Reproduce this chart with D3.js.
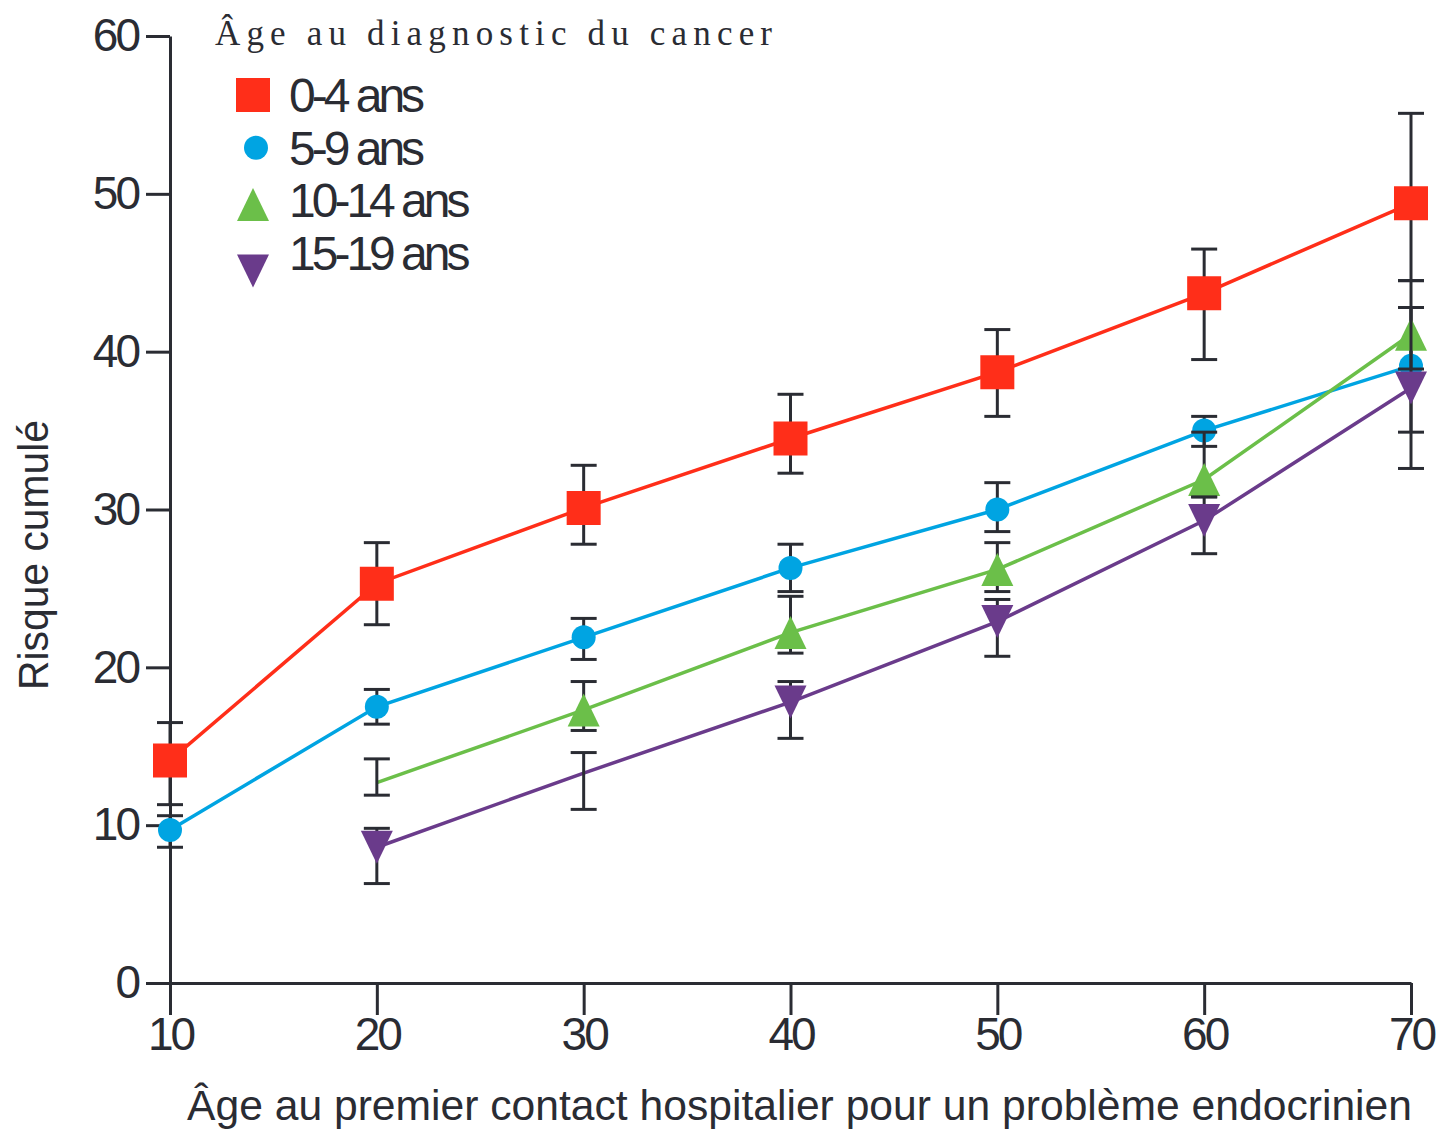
<!DOCTYPE html>
<html>
<head>
<meta charset="utf-8">
<script src="https://cdn.jsdelivr.net/npm/d3@7"></script>
<style>
  body { margin: 0; background: #fff; }
  svg { display: block; }
</style>
</head>
<body>
<script>
// x categories and axis ticks
var ages = [10, 20, 30, 40, 50, 60, 70];
var yTicks = [0, 10, 20, 30, 40, 50, 60];
var groups = ["0-4 ans", "5-9 ans", "10-14 ans", "15-19 ans"];

// cumulative risk with lower / upper bounds
var risk04 = [14.1, 25.3, 30.1, 34.5, 38.7, 43.7, 49.4];
var low04  = [11.3, 22.7, 27.8, 32.3, 35.9, 39.5, 44.5];
var high04 = [16.5, 27.9, 32.8, 37.3, 41.4, 46.5, 55.1];

var risk59 = [9.7, 17.5, 21.9, 26.3, 30.0, 35.0, 39.1];
var low59  = [8.6, 16.4, 20.5, 24.8, 28.6, 34.0, 34.9];
var high59 = [10.6, 18.6, 23.1, 27.8, 31.7, 35.9, 42.8];

var risk1014 = [null, 12.7, 17.3, 22.2, 26.2, 31.9, 41.1];
var low1014  = [null, 11.9, 16.0, 20.9, 24.8, 30.8, 38.9];
var high1014 = [null, 14.2, 19.1, 24.5, 27.9, 34.9, 44.5];

var risk1519 = [null, 8.6, 13.3, 17.8, 22.9, 29.3, 37.7];
var low1519  = [null, 6.3, 11.0, 15.5, 20.7, 27.2, 32.6];
var high1519 = [null, 9.8, 14.6, 19.1, 24.3, 30.8, 42.8];

// ages where no marker is drawn (only the error bar)
var noMarker = [[], [], [20], [30]];

var colors = ["#ff2e19", "#00a4e2", "#6bbf49", "#6a3b8b"];
var shapes = ["square", "circle", "up", "down"];
var ink = "#2a2c33";

var series = [
  {risk: risk04, low: low04, high: high04},
  {risk: risk59, low: low59, high: high59},
  {risk: risk1014, low: low1014, high: high1014},
  {risk: risk1519, low: low1519, high: high1519}
].map(function(s, i) {
  return {
    name: groups[i], color: colors[i], shape: shapes[i],
    points: ages.map(function(a, j) {
      return {age: a, v: s.risk[j], lo: s.low[j], hi: s.high[j],
              marker: noMarker[i].indexOf(a) < 0};
    }).filter(function(p) { return p.v != null; })
  };
});

var W = 1439, H = 1129;

var x = d3.scaleLinear().domain([10, 70]).range([170, 1411]);
var y = d3.scaleLinear().domain([0, 60]).range([983, 36]);

var svg = d3.select("body").append("svg")
  .attr("width", W)
  .attr("height", H);

function shapePath(shape) {
  if (shape == "square") return "M-17,-17h34v34h-34Z";
  if (shape == "circle") return d3.symbol(d3.symbolCircle, Math.PI * 12 * 12)();
  if (shape == "up") return "M0,-16.5L16,16.5L-16,16.5Z";
  return "M0,16.5L16,-16.5L-16,-16.5Z";
}

// axes
var yAxis = d3.axisLeft(y).tickValues(yTicks).tickSize(24).tickSizeOuter(0).tickPadding(8);
var xAxis = d3.axisBottom(x).tickValues(ages).tickSize(32).tickSizeOuter(0).tickPadding(2);

var gy = svg.append("g")
  .attr("transform", "translate(" + x(10) + ",0)")
  .call(yAxis);
var gx = svg.append("g")
  .attr("transform", "translate(0," + y(0) + ")")
  .call(xAxis);

[gx, gy].forEach(function(g) {
  g.selectAll("path, line").attr("stroke", ink).attr("stroke-width", 3);
  g.selectAll("text")
    .attr("fill", ink)
    .style("font-family", "'Liberation Sans', Arial, sans-serif")
    .style("font-size", "46px")
    .style("letter-spacing", "-3px");
});

// axis titles
svg.append("text")
  .attr("transform", "translate(48,555) rotate(-90)")
  .attr("text-anchor", "middle")
  .attr("fill", ink)
  .attr("textLength", 270)
  .attr("lengthAdjust", "spacingAndGlyphs")
  .style("font-family", "'Liberation Sans', Arial, sans-serif")
  .style("font-size", "42px")
  .text("Risque cumulé");

svg.append("text")
  .attr("x", 187)
  .attr("y", 1120)
  .attr("fill", ink)
  .attr("textLength", 1225)
  .attr("lengthAdjust", "spacingAndGlyphs")
  .style("font-family", "'Liberation Sans', Arial, sans-serif")
  .style("font-size", "42px")
  .text("Âge au premier contact hospitalier pour un problème endocrinien");

// series: line, error bars, markers
var line = d3.line()
  .x(function(d) { return x(d.age); })
  .y(function(d) { return y(d.v); });

series.forEach(function(s) {
  var g = svg.append("g");

  g.append("path")
    .datum(s.points)
    .attr("d", line)
    .attr("fill", "none")
    .attr("stroke", s.color)
    .attr("stroke-width", 3.5);

  var eb = g.selectAll(".err")
    .data(s.points)
    .enter().append("g")
    .attr("class", "err")
    .attr("stroke", ink)
    .attr("stroke-width", 3);
  eb.append("line")
    .attr("x1", function(d) { return x(d.age); })
    .attr("x2", function(d) { return x(d.age); })
    .attr("y1", function(d) { return y(d.lo); })
    .attr("y2", function(d) { return y(d.hi); });
  eb.append("line")
    .attr("x1", function(d) { return x(d.age) - 13; })
    .attr("x2", function(d) { return x(d.age) + 13; })
    .attr("y1", function(d) { return y(d.lo); })
    .attr("y2", function(d) { return y(d.lo); });
  eb.append("line")
    .attr("x1", function(d) { return x(d.age) - 13; })
    .attr("x2", function(d) { return x(d.age) + 13; })
    .attr("y1", function(d) { return y(d.hi); })
    .attr("y2", function(d) { return y(d.hi); });

  g.selectAll(".mark")
    .data(s.points.filter(function(d) { return d.marker; }))
    .enter().append("path")
    .attr("class", "mark")
    .attr("d", shapePath(s.shape))
    .attr("transform", function(d) { return "translate(" + x(d.age) + "," + y(d.v) + ")"; })
    .attr("fill", s.color);
});

// legend
svg.append("text")
  .attr("x", 215)
  .attr("y", 45)
  .attr("fill", ink)
  .attr("textLength", 557)
  .attr("lengthAdjust", "spacing")
  .style("font-family", "'Liberation Serif', 'Times New Roman', serif")
  .style("font-size", "35px")
  .text("Âge au diagnostic du cancer");

var markerDy = [0, 0, 4, 18];
var legend = svg.selectAll(".legend")
  .data(series)
  .enter().append("g")
  .attr("class", "legend")
  .attr("transform", function(d, i) { return "translate(0," + (95 + i * 52.7) + ")"; });

legend.append("path")
  .attr("d", function(d) { return shapePath(d.shape); })
  .attr("transform", function(d, i) {
    return "translate(" + (d.shape == "circle" ? 256 : 253) + "," + markerDy[i] + ")";
  })
  .attr("fill", function(d) { return d.color; });

legend.append("text")
  .attr("x", 289)
  .attr("y", 17)
  .attr("fill", ink)
  .style("font-family", "'Liberation Sans', Arial, sans-serif")
  .style("font-size", "48px")
  .style("letter-spacing", "-4px")
  .text(function(d) { return d.name; });
</script>
</body>
</html>
